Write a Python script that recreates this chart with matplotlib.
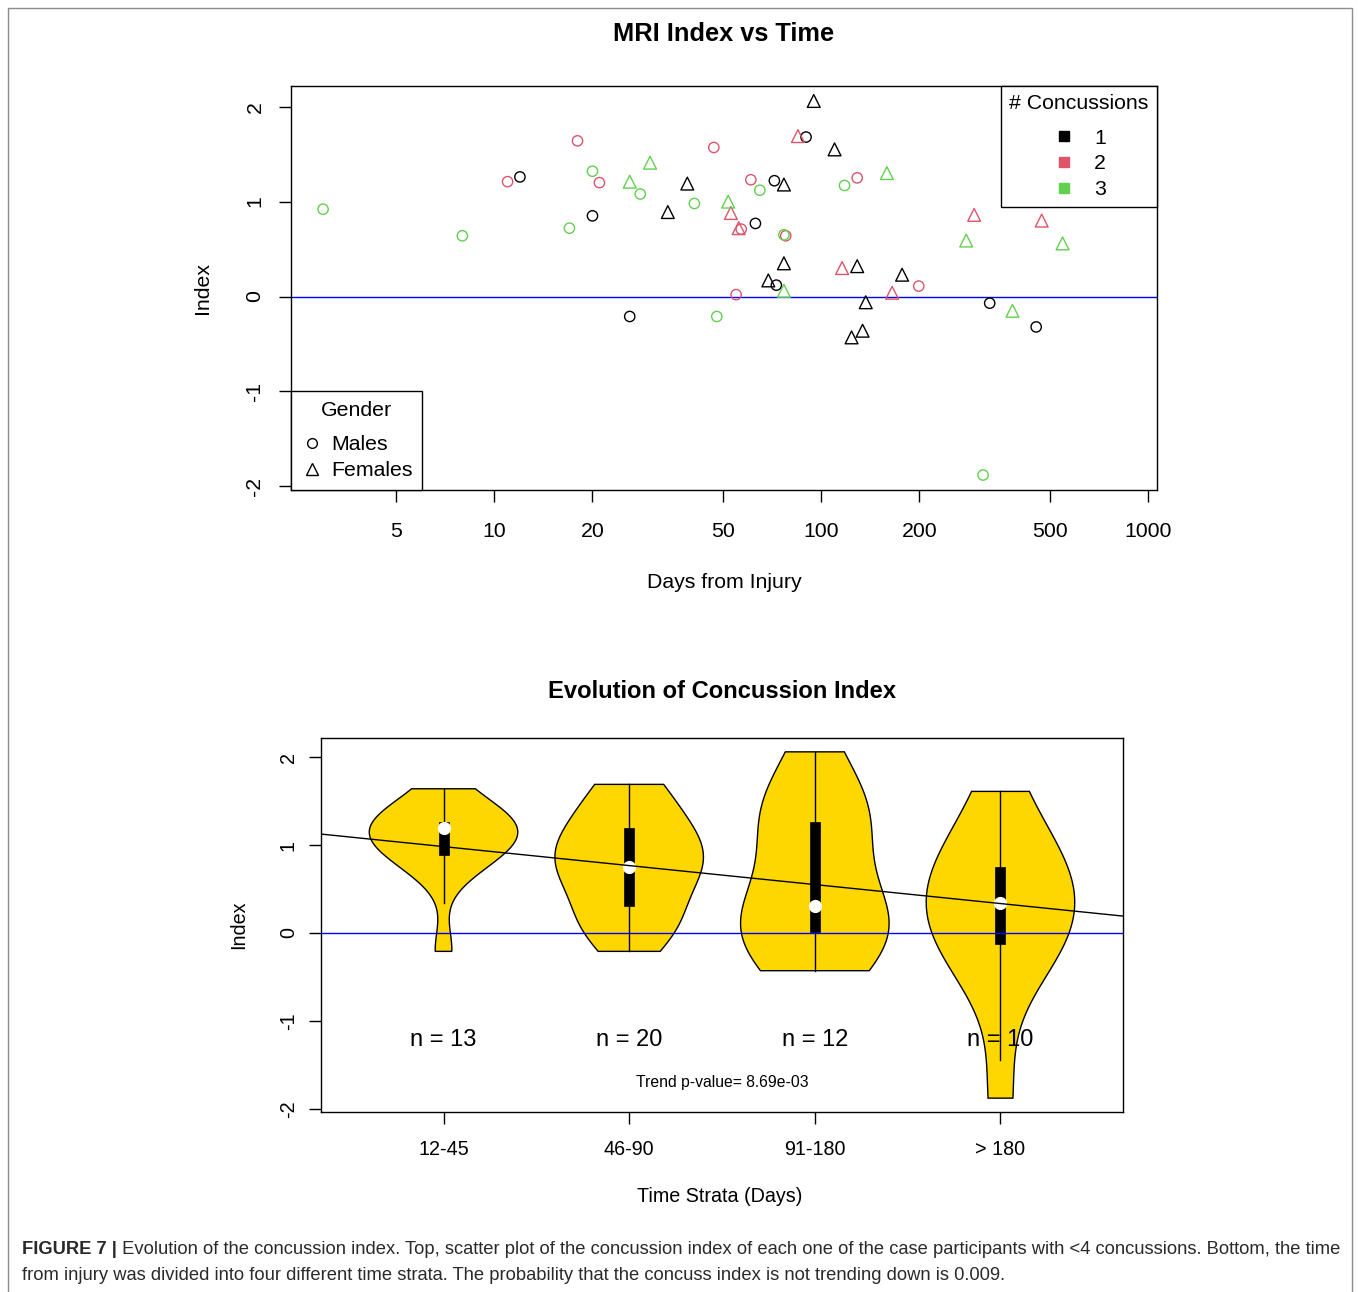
import numpy as np
import matplotlib
matplotlib.use("Agg")
import matplotlib.pyplot as plt
from matplotlib.lines import Line2D
from matplotlib.patches import Rectangle
from matplotlib.ticker import NullLocator

plt.rcParams['font.family'] = ['Liberation Sans', 'DejaVu Sans']
plt.rcParams['axes.unicode_minus'] = False

# --- data (days from injury, index, # concussions, gender)
days = [3, 8, 11, 12, 17, 18, 20, 20, 21, 26, 26, 28, 30, 34, 39, 41,
        47, 48, 52, 53, 55, 56, 57, 61, 63, 65, 69, 72, 73, 77, 77, 78, 77, 77, 85, 90,
        95, 110, 116, 118, 124, 129, 129, 134, 137, 159, 165, 177,
        199, 278, 294, 313, 328, 385, 455, 473, 548, 850]
index = [0.92, 0.64, 1.21, 1.26, 0.72, 1.64, 0.85, 1.32, 1.20, -0.21, 1.21, 1.08, 1.41, 0.89, 1.19, 0.98,
         1.57, -0.21, 1.00, 0.88, 0.02, 0.72, 0.71, 1.23, 0.77, 1.12, 0.17, 1.22, 0.12, 1.18, 0.65, 0.64, 0.35, 0.06, 1.69, 1.68,
         2.06, 1.55, 0.30, 1.17, -0.43, 1.25, 0.32, -0.36, -0.06, 1.30, 0.04, 0.23,
         0.11, 0.59, 0.86, -1.88, -0.07, -0.15, -0.32, 0.80, 0.56, 1.61]
concussions = [3, 3, 2, 1, 3, 2, 1, 3, 2, 1, 3, 3, 3, 1, 1, 3,
               2, 3, 3, 2, 2, 2, 2, 2, 1, 3, 1, 1, 1, 1, 3, 2, 1, 3, 2, 1,
               1, 1, 2, 3, 1, 2, 1, 1, 1, 3, 2, 1,
               2, 3, 2, 3, 1, 3, 1, 2, 3, 2]
gender = ['M', 'M', 'M', 'M', 'M', 'M', 'M', 'M', 'M', 'M', 'F', 'M', 'F', 'F', 'F', 'M',
          'M', 'M', 'F', 'F', 'M', 'F', 'M', 'M', 'M', 'M', 'F', 'M', 'M', 'F', 'M', 'M', 'F', 'F', 'F', 'M',
          'F', 'F', 'F', 'M', 'F', 'M', 'F', 'F', 'F', 'F', 'F', 'F',
          'M', 'F', 'F', 'M', 'M', 'F', 'M', 'F', 'F', 'F']

strata_labels = ['12-45', '46-90', '91-180', '> 180']
strata_lower = [12, 46, 91, 181]
strata_upper = [45, 90, 180, 100000]

# trend line
trend_intercept = 1.198
trend_slope = -0.216
trend_pvalue = 8.69e-03

conc_colors = {1: '#000000', 2: '#DF536B', 3: '#61D04F'}
gender_markers = {'M': 'o', 'F': '^'}

W, H = 1358, 1292


def fx(px):
    return px / W


def fy(py):
    return 1 - py / H


def r_lim(lo, hi):
    ext = 0.04 * (hi - lo)
    return lo - ext, hi + ext


def violin(ax, pos, vals):
    vals = np.asarray(vals, dtype=float)
    n = len(vals)
    h = vals.std(ddof=1) * (4 / (3 * n)) ** 0.2
    grid = np.linspace(vals.min(), vals.max(), 120)
    dens = np.exp(-0.5 * ((grid[:, None] - vals[None, :]) / h) ** 2).sum(axis=1)
    half = dens / dens.max() * 0.4
    xs = np.concatenate([pos - half, (pos + half)[::-1]])
    ys = np.concatenate([grid, grid[::-1]])
    ax.fill(xs, ys, facecolor='#FFD700', edgecolor='black', lw=1.0, zorder=2)
    q1, med, q3 = np.percentile(vals, [25, 50, 75])
    iqr = q3 - q1
    lo = max(q1 - 1.5 * iqr, vals.min())
    hi = min(q3 + 1.5 * iqr, vals.max())
    ax.plot([pos, pos], [lo, hi], color='black', lw=1.0, zorder=3)
    ax.add_patch(Rectangle((pos - 0.027, q1), 0.054, q3 - q1, facecolor='black',
                           edgecolor='black', lw=0.5, zorder=4))
    ax.plot(pos, med, 'o', color='white', ms=8.5, zorder=5)


def style_legend(leg):
    leg.get_frame().set_linewidth(1.0)
    leg._legend_box.sep = 11
    leg.set_zorder(10)


fig = plt.figure(figsize=(W / 100, H / 100), dpi=100)

# ---------------- top: scatter
ax1 = fig.add_axes([fx(291), fy(490), fx(1157 - 291), (490 - 86) / H])
days_arr = np.array(days, dtype=float)
idx_arr = np.array(index, dtype=float)
conc_arr = np.array(concussions)
gen_arr = np.array(gender)

for c in [1, 2, 3]:
    for g in ['M', 'F']:
        m = (conc_arr == c) & (gen_arr == g)
        ax1.scatter(days_arr[m], idx_arr[m], marker=gender_markers[g],
                    facecolors='none', edgecolors=conc_colors[c],
                    s=55 if g == 'M' else 85, linewidths=1.0, zorder=3)

ax1.axhline(0, color='blue', lw=1.0, zorder=2)
ax1.set_xscale('log')
lx = r_lim(np.log10(days_arr.min()), np.log10(days_arr.max()))
ax1.set_xlim(10 ** lx[0], 10 ** lx[1])
ax1.set_ylim(*r_lim(idx_arr.min(), idx_arr.max()))
xt = [5, 10, 20, 50, 100, 200, 500, 1000]
ax1.set_xticks(xt)
ax1.set_xticklabels([str(v) for v in xt])
ax1.xaxis.set_minor_locator(NullLocator())
ax1.set_yticks([-2, -1, 0, 1, 2])
ax1.tick_params(axis='both', direction='out', length=8.6, width=1.0, labelsize=15.3)
ax1.tick_params(axis='x', pad=14.5)
ax1.tick_params(axis='y', pad=10.5)
for t in ax1.get_yticklabels():
    t.set_rotation(90)
    t.set_va('center')
for sp in ax1.spines.values():
    sp.set_linewidth(1.0)

conc_handles = [Line2D([], [], marker='s', ls='none', color=conc_colors[c], markersize=6.5)
                for c in [1, 2, 3]]
leg1 = ax1.legend(conc_handles, ['1', '2', '3'], title='# Concussions', loc='upper right',
                  borderaxespad=0, fontsize=15.3, title_fontsize=15.3, fancybox=False,
                  framealpha=1, edgecolor='black', borderpad=0.4, labelspacing=0.31,
                  handlelength=1.2, handletextpad=0.8)
style_legend(leg1)
ax1.add_artist(leg1)

gen_handles = [Line2D([], [], marker=gender_markers[g], ls='none', markerfacecolor='none',
                      markeredgecolor='black', markersize=7 if g == 'M' else 8.5, markeredgewidth=1.0)
               for g in ['M', 'F']]
leg2 = ax1.legend(gen_handles, ['Males', 'Females'], title='Gender', loc='lower left',
                  borderaxespad=0, fontsize=15.3, title_fontsize=15.3, fancybox=False,
                  framealpha=1, edgecolor='black', borderpad=0.45, labelspacing=0.34,
                  handlelength=1.1, handletextpad=0.35)
style_legend(leg2)

fig.text(fx(724), fy(34), 'MRI Index vs Time', ha='center', va='center',
         fontsize=18.3, fontweight='bold')
fig.text(fx(724), fy(582), 'Days from Injury', ha='center', va='center', fontsize=15.3)
fig.text(fx(203), fy(288), 'Index', ha='center', va='center', rotation=90, fontsize=15.3)

# ---------------- bottom: violins by time strata
ax2 = fig.add_axes([fx(321), fy(1112), fx(1123 - 321), (1112 - 738) / H])
groups = []
for lo, hi in zip(strata_lower, strata_upper):
    m = (days_arr >= lo) & (days_arr <= hi)
    groups.append(idx_arr[m])

for i, vals in enumerate(groups):
    violin(ax2, i + 1, vals)
    ax2.text(i + 1, -1.22, f'n = {len(vals)}', ha='center', va='center', fontsize=17, zorder=6)

ax2.axhline(0, color='blue', lw=1.0, zorder=4.5)
ax2.axline((0, trend_intercept), slope=trend_slope, color='black', lw=1.0, zorder=6)
ax2.text(2.5, -1.7, f'Trend p-value= {trend_pvalue:.2e}', ha='center', va='center', fontsize=11.3)

all_vals = np.concatenate(groups)
ax2.set_xlim(*r_lim(0.5, len(groups) + 0.5))
ax2.set_ylim(*r_lim(all_vals.min(), all_vals.max()))
ax2.set_xticks(range(1, len(groups) + 1))
ax2.set_xticklabels(strata_labels)
ax2.set_yticks([-2, -1, 0, 1, 2])
ax2.tick_params(axis='both', direction='out', length=8.6, width=1.0, labelsize=14.2)
ax2.tick_params(axis='x', pad=11.5)
ax2.tick_params(axis='y', pad=8)
for t in ax2.get_yticklabels():
    t.set_rotation(90)
    t.set_va('center')
for sp in ax2.spines.values():
    sp.set_linewidth(1.0)

fig.text(fx(722), fy(691), 'Evolution of Concussion Index', ha='center', va='center',
         fontsize=17.1, fontweight='bold')
fig.text(fx(720), fy(1197), 'Time Strata (Days)', ha='center', va='center', fontsize=14.2)
fig.text(fx(239), fy(925), 'Index', ha='center', va='center', rotation=90, fontsize=14.2)

# ---------------- frame and caption
fig.add_artist(Rectangle((fx(8), -0.01), fx(1352 - 8), fy(8) + 0.01, transform=fig.transFigure,
                         fill=False, edgecolor='#8c8c8c', lw=1.0))

cap_col = '#2a2a2a'
cap_fs = 13.25
b = fig.text(fx(22), fy(1250), 'FIGURE 7 |', ha='left', va='center', fontsize=cap_fs,
             fontweight='bold', color=cap_col)
ax2.annotate(' Evolution of the concussion index. Top, scatter plot of the concussion index of each one '
             'of the case participants with <4 concussions. Bottom, the time',
             xy=(1, 0.5), xycoords=b, ha='left', va='center', fontsize=cap_fs, color=cap_col,
             annotation_clip=False)
fig.text(fx(22), fy(1275), 'from injury was divided into four different time strata. The probability '
         'that the concuss index is not trending down is 0.009.', ha='left', va='center',
         fontsize=cap_fs, color=cap_col)

fig.savefig('out.png', dpi=100)
